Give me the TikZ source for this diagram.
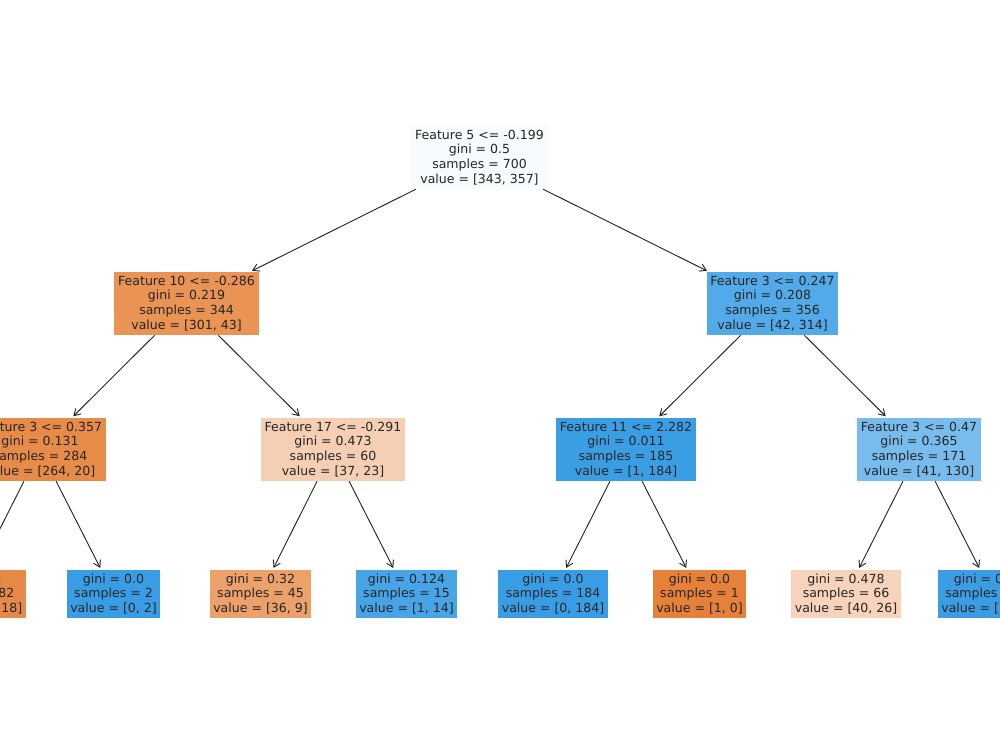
\documentclass[tikz,border=0pt]{standalone}
\usepackage{fontspec}
\setmainfont{DejaVu Sans}
\usetikzlibrary{arrows.meta}
\definecolor{cRoot}{RGB}{247,251,254}
\definecolor{cA}{RGB}{233,147,85}
\definecolor{cB}{RGB}{83,170,232}
\definecolor{cC}{RGB}{231,139,72}
\definecolor{cD}{RGB}{245,207,180}
\definecolor{cE}{RGB}{58,158,229}
\definecolor{cF}{RGB}{119,188,237}
\definecolor{cG}{RGB}{231,138,71}
\definecolor{cBlue}{RGB}{57,157,229}
\definecolor{cH}{RGB}{236,160,106}
\definecolor{cI}{RGB}{71,164,231}
\definecolor{cOrange}{RGB}{229,129,57}
\definecolor{cJ}{RGB}{246,211,186}
\definecolor{cK}{RGB}{59,158,229}
\definecolor{txt}{RGB}{38,38,38}
\begin{document}
\begin{tikzpicture}[x=0.75pt,y=-0.75pt,
  box/.style={rectangle, align=center, font=\fontsize{9.4}{11}\selectfont, text=txt, inner xsep=2.8pt, inner ysep=0pt},
  split/.style={box, minimum height=47.25pt},
  leaf/.style={box, minimum height=36pt},
  edge/.style={draw=txt, line width=0.7pt, shorten >=1.5pt, -{Straight Barb[length=4.8pt,width=5.8pt]}}]
\useasboundingbox (0,0) rectangle (1000,750);
\clip (0,0) rectangle (1000,750);
% root
\node[split, fill=cRoot] (r) at (479.5,157.5) {Feature 5 <= -0.199\\gini = 0.5\\samples = 700\\value = [343, 357]};
% level 1
\node[split, fill=cA] (a) at (186.5,303.5) {Feature 10 <= -0.286\\gini = 0.219\\samples = 344\\value = [301, 43]};
\node[split, fill=cB] (b) at (772.5,303.5) {Feature 3 <= 0.247\\gini = 0.208\\samples = 356\\value = [42, 314]};
% level 2
\node[split, fill=cC] (aa) at (40,449.5) {Feature 3 <= 0.357\\gini = 0.131\\samples = 284\\value = [264, 20]};
\node[split, fill=cD] (ab) at (333,449.5) {Feature 17 <= -0.291\\gini = 0.473\\samples = 60\\value = [37, 23]};
\node[split, fill=cE] (ba) at (626,449.5) {Feature 11 <= 2.282\\gini = 0.011\\samples = 185\\value = [1, 184]};
\node[split, fill=cF] (bb) at (919,449.5) {Feature 3 <= 0.47\\gini = 0.365\\samples = 171\\value = [41, 130]};
% leaves
\node[leaf, fill=cG] (l1) at (-33,594) {gini = 0.12\\samples = 282\\value = [264, 18]};
\node[leaf, fill=cBlue] (l2) at (113.5,594) {gini = 0.0\\samples = 2\\value = [0, 2]};
\node[leaf, fill=cH] (l3) at (260.5,594) {gini = 0.32\\samples = 45\\value = [36, 9]};
\node[leaf, fill=cI] (l4) at (406.5,594) {gini = 0.124\\samples = 15\\value = [1, 14]};
\node[leaf, fill=cBlue] (l5) at (553,594) {gini = 0.0\\samples = 184\\value = [0, 184]};
\node[leaf, fill=cOrange] (l6) at (699.5,594) {gini = 0.0\\samples = 1\\value = [1, 0]};
\node[leaf, fill=cJ] (l7) at (846,594) {gini = 0.478\\samples = 66\\value = [40, 26]};
\node[leaf, fill=cK] (l8) at (992.5,594) {gini = 0.019\\samples = 105\\value = [1, 104]};
% edges
\draw[edge] (r) -- (a);
\draw[edge] (r) -- (b);
\draw[edge] (a) -- (aa);
\draw[edge] (a) -- (ab);
\draw[edge] (b) -- (ba);
\draw[edge] (b) -- (bb);
\draw[edge] (aa) -- (l1);
\draw[edge] (aa) -- (l2);
\draw[edge] (ab) -- (l3);
\draw[edge] (ab) -- (l4);
\draw[edge] (ba) -- (l5);
\draw[edge] (ba) -- (l6);
\draw[edge] (bb) -- (l7);
\draw[edge] (bb) -- (l8);
\end{tikzpicture}
\end{document}
